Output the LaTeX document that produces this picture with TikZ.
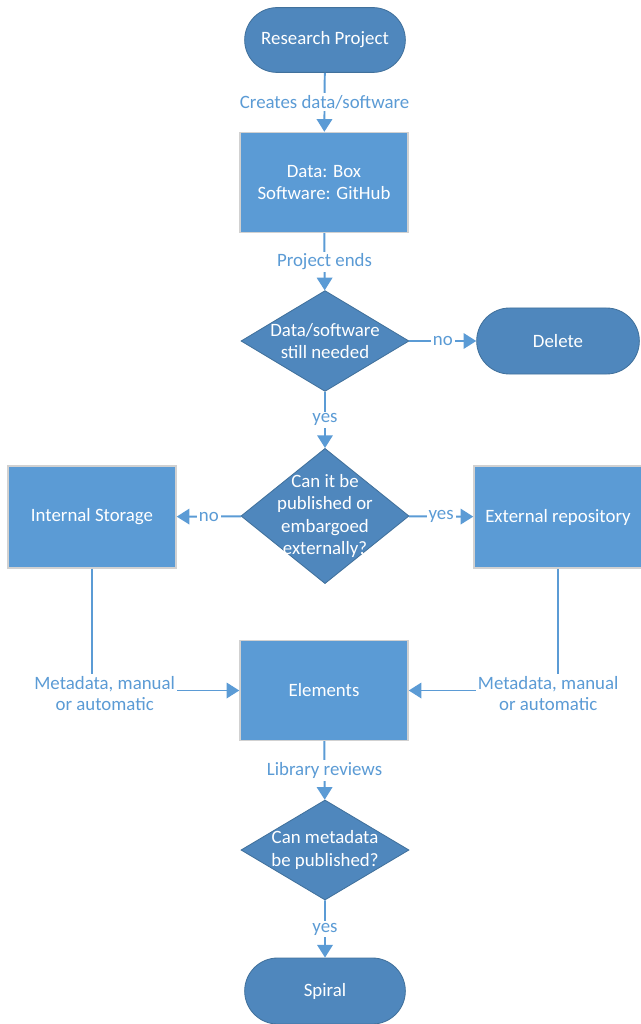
\documentclass[tikz,border=0pt]{standalone}
\usepackage{fontspec}
\setmainfont{Carlito}
\usetikzlibrary{arrows.meta, shapes.geometric, shapes.misc}
\definecolor{myDarkBlue}{RGB}{79, 135, 189}
\definecolor{myBlue}{RGB}{91, 155, 213}
\definecolor{myEdge}{RGB}{65, 113, 156}

\begin{document}
\begin{tikzpicture}[
    x=0.025cm, y=-0.025cm,
    % --- node styles ---
    termnode/.style={rounded rectangle, fill=myDarkBlue, draw=myEdge, line width=0.6pt,
        minimum width=4.25cm, minimum height=1.62cm, text=white, font=\fontsize{13.4}{16}\selectfont},
    boxnode/.style={rectangle, fill=myBlue, draw=black!18, line width=1pt,
        minimum width=4.2cm, minimum height=2.5cm, text=white, align=center, font=\fontsize{13.4}{15}\selectfont},
    decnode/.style={diamond, fill=myDarkBlue, draw=myEdge, line width=0.6pt,
        minimum width=4.2cm, inner sep=0pt},
    dectext/.style={text=white, align=center, font=\fontsize{13.4}{16}\selectfont},
    % --- connector styles ---
    flow/.style={-{Triangle[width=11pt, length=9pt]}, line width=1.4pt, myBlue},
    lbl/.style={fill=white, inner sep=1.5pt, text=myBlue, align=center, font=\fontsize{13.4}{15}\selectfont}
]
\useasboundingbox (0,0) rectangle (640,1024);

% === main column ===
\node[termnode] (research) at (325,40) {Research Project};
\node[boxnode] (store) at (324,182.5) {Data: Box\\Software: GitHub};
\node[decnode, minimum height=2.52cm,
      label={[dectext]center:Data/software\\still needed}] (needed) at (325,341) {};
\node[termnode, minimum width=4.3cm, minimum height=1.65cm] (delete) at (558,341) {Delete};
\node[decnode, minimum height=3.38cm,
      label={[dectext]center:Can it be\\published or\\embargoed\\externally?}] (canpub) at (325,516) {};

% === both sides ===
\node[boxnode, minimum height=2.55cm] (internal) at (92,517) {Internal Storage};
\node[boxnode, minimum height=2.55cm] (external) at (558,517) {External repository};

% === lower part ===
\node[boxnode] (elements) at (324,690.5) {Elements};
\node[decnode, minimum height=2.5cm,
      label={[dectext]center:Can metadata\\be published?}] (metapub) at (325,850) {};
\node[termnode, minimum height=1.65cm] (spiral) at (325,991) {Spiral};

% === connectors ===
\draw[flow] (research) -- node[lbl] {Creates data/software} (store);
\draw[flow] (store) -- node[lbl] {Project ends} (needed);
\draw[flow] (needed) -- node[lbl] {no} (delete);
\draw[flow] (needed) -- node[lbl] {yes} (canpub);
\draw[flow] (canpub) -- node[lbl] {no} (internal);
\draw[flow] (canpub) -- node[lbl] {yes} (external);
\draw[flow] (internal.south) |- node[lbl, xshift=9pt, yshift=-2pt] {Metadata, manual\\or automatic} (elements.west);
\draw[flow] (external.south) |- node[lbl, xshift=-7pt, yshift=-2pt] {Metadata, manual\\or automatic} (elements.east);
\draw[flow] (elements) -- node[lbl] {Library reviews} (metapub);
\draw[flow] (metapub) -- node[lbl] {yes} (spiral);

\end{tikzpicture}
\end{document}
